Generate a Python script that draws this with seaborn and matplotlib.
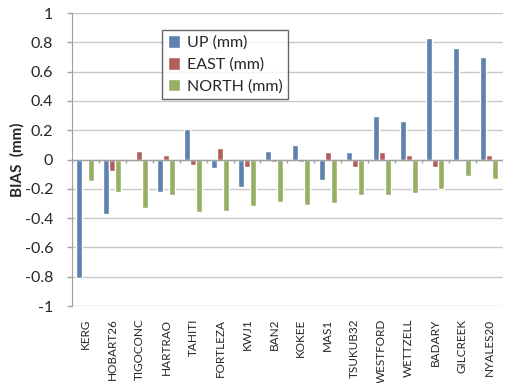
import numpy as np
import pandas as pd
import matplotlib
matplotlib.use('Agg')
import matplotlib.pyplot as plt
import seaborn as sns

stations = ['KERG', 'HOBART26', 'TIGOCONC', 'HARTRAO', 'TAHITI', 'FORTLEZA', 'KWJ1', 'BAN2',
            'KOKEE', 'MAS1', 'TSUKUB32', 'WESTFORD', 'WETTZELL', 'BADARY', 'GILCREEK', 'NYALES20']
up = [-0.81, -0.37, 0.0, -0.22, 0.21, -0.06, -0.19, 0.06, 0.10, -0.14, 0.05, 0.30, 0.26, 0.83, 0.76, 0.70]
east = [-0.01, -0.08, 0.06, 0.03, -0.04, 0.08, -0.05, -0.02, -0.02, 0.05, -0.05, 0.05, 0.03, -0.05, 0.0, 0.03]
north = [-0.15, -0.22, -0.33, -0.24, -0.36, -0.35, -0.32, -0.29, -0.31, -0.30, -0.24, -0.24, -0.23, -0.20, -0.11, -0.13]
series = ['UP (mm)', 'EAST (mm)', 'NORTH (mm)']
colors = ['#4F81BD', '#C0504D', '#9BBB59']

df = pd.DataFrame({'station': stations * 3,
                   'series': np.repeat(series, len(stations)),
                   'bias': up + east + north})

sns.set_style('white')
plt.rcParams['font.family'] = ['Lato', 'DejaVu Sans']

fig = plt.figure(figsize=(5.05, 3.83), dpi=100)
ax = fig.add_axes([0.1426, 0.201, 0.853, 0.765])

for y in np.arange(-1, 1.01, 0.2):
    ax.axhline(y, color='#c8c8c8', lw=1, zorder=0)

sns.barplot(data=df, x='station', y='bias', hue='series', palette=colors,
            width=0.67, gap=0, ax=ax, zorder=2, errorbar=None)

ax.axhline(0, color='#a0a0a0', lw=1, zorder=3)
ax.vlines(np.arange(-0.5, len(stations), 1), -0.027, 0, color='#a0a0a0', lw=1, zorder=3)

ax.set_ylim(-1, 1)
ax.set_xlim(-0.5, len(stations) - 0.5)
ax.set_yticks(np.round(np.arange(-1, 1.01, 0.2), 1))
ax.set_yticklabels(['-1', '-0.8', '-0.6', '-0.4', '-0.2', '0', '0.2', '0.4', '0.6', '0.8', '1'], fontsize=11.5)
ax.tick_params(axis='x', length=0, labelsize=8.5, rotation=90, pad=9)
ax.tick_params(axis='y', left=True, length=3.5, width=1, color='#a0a0a0', pad=10)
ax.set_xlabel('')
ax.set_ylabel('BIAS  (mm)', fontsize=11, fontweight='bold', labelpad=0)

for s in ['top', 'right', 'bottom']:
    ax.spines[s].set_visible(False)
ax.spines['left'].set_color('#a0a0a0')

leg = ax.legend(loc='upper left', bbox_to_anchor=(0.321, 0.922), bbox_transform=fig.transFigure,
                fontsize=11.5, frameon=True, fancybox=False, borderaxespad=0,
                handlelength=0.8, handleheight=0.8, handletextpad=0.4, labelspacing=0.45,
                borderpad=0.35)
leg.get_frame().set_edgecolor('#404040')
leg.get_frame().set_linewidth(1)

fig.savefig('out.png', dpi=100)
